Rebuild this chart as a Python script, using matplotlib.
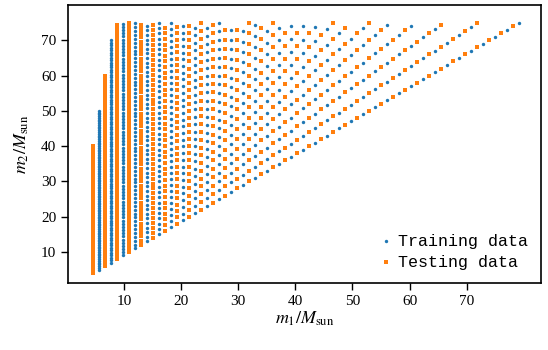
import matplotlib.pyplot as plt

# column positions on the m1 axis
m1_cols = [4.6, 5.65, 6.7, 7.75, 8.8, 9.85, 10.9, 11.95, 13.0, 14.05, 15.1, 16.15,
           17.2, 18.25, 19.3, 20.35, 21.4, 22.45, 23.5, 24.55, 25.6, 26.65, 27.7, 28.75,
           29.8, 30.85, 31.9, 32.95, 34.0, 35.05, 36.1, 37.15, 38.2, 39.25, 40.3, 41.35,
           42.4, 43.45, 44.5, 45.55, 46.6, 47.65, 48.7, 49.75, 50.8, 51.85, 52.9, 53.95,
           55.0, 56.05, 57.1, 58.15, 59.2, 60.25, 61.3, 62.35, 63.4, 64.45, 65.5, 66.55,
           67.6, 68.65, 69.7, 70.75, 71.8, 72.85, 73.9, 74.95, 76.0, 77.05, 78.1, 79.15]
# lowest m2 of each column
m2_base = [4, 5, 6, 7, 8, 9, 10, 11, 12, 13, 14, 15, 16, 17, 18, 19, 20, 21, 22, 23,
           24, 25, 26, 27, 28, 29, 30, 31, 32, 33, 34, 35, 36, 37, 38, 39, 40, 41, 42,
           43, 44, 45, 46, 47, 48, 49, 50, 51, 52, 53, 54, 55, 56, 57, 58, 59, 60, 61,
           62, 63, 64, 65, 66, 67, 68, 69, 70, 71, 72, 73, 74, 75]
# mass ratio grid along each column
q_values = [1.0, 1.1, 1.2, 1.3, 1.4, 1.5, 1.6, 1.7, 1.8, 1.9,
            2.0, 2.1, 2.2, 2.3, 2.4, 2.5, 2.6, 2.7, 2.8, 2.9,
            3.0, 3.1, 3.2, 3.3, 3.4, 3.5, 3.6, 3.7, 3.8, 3.9,
            4.0, 4.1, 4.2, 4.3, 4.4, 4.5, 4.6, 4.7, 4.8, 4.9,
            5.0, 5.1, 5.2, 5.3, 5.4, 5.5, 5.6, 5.7, 5.8, 5.9,
            6.0, 6.1, 6.2, 6.3, 6.4, 6.5, 6.6, 6.7, 6.8, 6.9,
            7.0, 7.1, 7.2, 7.3, 7.4, 7.5, 7.6, 7.7, 7.8, 7.9,
            8.0, 8.1, 8.2, 8.3, 8.4, 8.5, 8.6, 8.7, 8.8, 8.9,
            9.0, 9.1, 9.2, 9.3, 9.4, 9.5, 9.6, 9.7, 9.8, 9.9, 10.0]
m2_max = 75

train_x, train_y, test_x, test_y = [], [], [], []
for j, (x, base) in enumerate(zip(m1_cols, m2_base)):
    for q in q_values:
        m2 = base * q
        if m2 > m2_max + 1e-6:
            continue
        # columns alternate between the two sets
        if j % 2 == 1:
            train_x.append(x)
            train_y.append(m2)
        else:
            test_x.append(x)
            test_y.append(m2)

plt.rcParams['font.family'] = ['Liberation Serif', 'DejaVu Serif']
plt.rcParams['mathtext.fontset'] = 'stix'

fig, ax = plt.subplots(figsize=(5.48, 3.5), dpi=100)
fig.subplots_adjust(left=68 / 548, right=541 / 548, top=1 - 5 / 350, bottom=1 - 283 / 350)

ax.scatter(train_x, train_y, s=6, c='#1f77b4', marker='o', linewidths=0, label='Training data')
ax.scatter(test_x, test_y, s=5, c='#ff7f0e', marker='s', linewidths=0, label='Testing data')

ax.set_xlim(0.2, 83)
ax.set_ylim(1.2, 80)
ax.set_xticks([10, 20, 30, 40, 50, 60, 70])
ax.set_yticks([10, 20, 30, 40, 50, 60, 70])
ax.tick_params(direction='out', length=5, width=1, labelsize=11)
for s in ax.spines.values():
    s.set_linewidth(1.2)

ax.set_xlabel(r'$m_1/M_{\rm sun}$', fontsize=13, labelpad=1)
ax.set_ylabel(r'$m_2/M_{\rm sun}$', fontsize=13, labelpad=7)

ax.legend(loc='lower right', frameon=False, prop={'family': 'Liberation Mono', 'size': 12},
          handlelength=0.8, handletextpad=0.3, borderaxespad=0.4, labelspacing=0.35)

fig.savefig('out.png', dpi=100)
